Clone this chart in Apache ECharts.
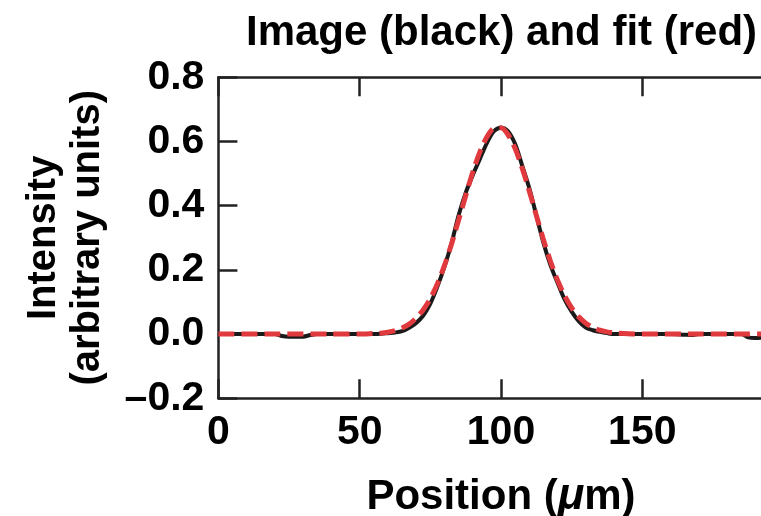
<!DOCTYPE html>
<html>
<head>
<meta charset="utf-8">
<script src="https://cdn.jsdelivr.net/npm/echarts@6/dist/echarts.min.js"></script>
<style>
html,body{margin:0;padding:0;background:#fff;}
#c{width:761px;height:516px;}
</style>
</head>
<body>
<div id="c"></div>
<script>
// Measured profile (black)
var imagePos = [0, 5, 10, 15, 20, 22.5, 25, 27.5, 30, 32.5, 35, 40, 45, 50, 55, 57.5, 60, 62.5, 65, 67.5, 70, 72.5, 75, 77.5, 80, 82.5, 85, 87.5, 90, 92.5, 95, 97.5, 100, 102.5, 105, 107.5, 110, 112.5, 115, 117.5, 120, 122.5, 125, 127.5, 130, 132.5, 135, 137.5, 140, 145, 150, 155, 160, 165, 167.5, 170, 175, 180, 185, 187.5, 190, 195, 200];
var imageVal = [0.000, 0.000, 0.000, 0.000, 0.000, -0.006, -0.008, -0.008, -0.008, -0.003, 0.000, 0.000, 0.000, 0.000, 0.000, 0.001, 0.003, 0.005, 0.009, 0.020, 0.035, 0.058, 0.095, 0.148, 0.210, 0.283, 0.370, 0.440, 0.495, 0.545, 0.595, 0.632, 0.643, 0.632, 0.592, 0.525, 0.455, 0.370, 0.285, 0.215, 0.160, 0.108, 0.070, 0.040, 0.020, 0.012, 0.007, 0.003, 0.000, 0.000, 0.000, 0.000, 0.000, -0.002, -0.003, 0.000, 0.000, 0.000, 0.000, -0.010, -0.012, -0.008, 0.000];
// Fit (red)
var fitPos = [0, 20, 40, 50, 55, 57.5, 60, 62.5, 65, 67.5, 70, 72.5, 75, 77.5, 80, 82.5, 85, 87.5, 90, 92.5, 95, 97.5, 100, 102.5, 105, 107.5, 110, 112.5, 115, 117.5, 120, 122.5, 125, 127.5, 130, 132.5, 135, 137.5, 140, 145, 150, 170, 200];
var fitVal = [0.000, 0.000, 0.000, 0.000, 0.002, 0.003, 0.006, 0.011, 0.019, 0.031, 0.050, 0.076, 0.111, 0.157, 0.214, 0.281, 0.355, 0.431, 0.504, 0.567, 0.614, 0.641, 0.643, 0.621, 0.578, 0.517, 0.446, 0.370, 0.295, 0.227, 0.168, 0.120, 0.082, 0.054, 0.034, 0.021, 0.012, 0.007, 0.004, 0.001, 0.000, 0.000, 0.000];
var xTicks = [0, 50, 100, 150];
var yTickLabels = ['\u20130.2', '0.0', '0.2', '0.4', '0.6', '0.8'];
var yTickValues = [-0.2, 0, 0.2, 0.4, 0.6, 0.8];

var titleText = 'Image (black) and fit (red)';
var xName = 'Position ({mu|\u03bc}m)';
var yName = 'Intensity\n(arbitrary units)';

function pairs(xs, ys){ return xs.map(function(x,i){ return [x, ys[i]]; }); }

var FONT = '"Liberation Sans", Arial, Helvetica, sans-serif';
var AX = '#222';
var axisLine = {show:true, onZero:false, lineStyle:{color:AX, width:2.5}};
var tick = {show:true, inside:true, length:19, lineStyle:{color:AX, width:2.5}};

var chart = echarts.init(document.getElementById('c'), null, {renderer:'canvas'});
chart.setOption({
  backgroundColor:'#fff',
  animation:false,
  title:{
    text:titleText, left:241, top:7,
    textStyle:{fontFamily:FONT, fontWeight:'bold', fontSize:42, color:'#000'}
  },
  grid:{left:218.4, top:77.3, right:-22.6, bottom:117.7, containLabel:false, outerBoundsMode:'none'},
  xAxis:[{
    type:'value', min:0, max:200, interval:50, position:'bottom',
    name:xName, nameLocation:'middle', nameGap:77,
    nameTextStyle:{fontFamily:FONT, fontWeight:'bold', fontSize:42, color:'#000',
      rich:{mu:{fontFamily:FONT, fontWeight:'bold', fontStyle:'italic', fontSize:44, color:'#000'}}},
    axisLine:axisLine, axisTick:tick, splitLine:{show:false},
    axisLabel:{margin:14, fontFamily:FONT, fontWeight:'bold', fontSize:41, color:'#000',
      formatter:function(v){ return xTicks.indexOf(v) >= 0 ? String(v) : ''; }}
  },{
    type:'value', min:0, max:200, interval:50, position:'top',
    axisLine:axisLine, axisTick:tick, axisLabel:{show:false}, splitLine:{show:false}
  }],
  yAxis:[{
    type:'value', min:-0.2, max:0.8, interval:0.2, position:'left',
    name:yName, nameLocation:'middle', nameGap:108, nameRotate:90,
    nameTextStyle:{fontFamily:FONT, fontWeight:'bold', fontSize:40, color:'#000', lineHeight:44, align:'center'},
    axisLine:axisLine, axisTick:tick, splitLine:{show:false},
    axisLabel:{margin:14, fontFamily:FONT, fontWeight:'bold', fontSize:41, color:'#000',
      formatter:function(v){
        for (var i=0;i<yTickValues.length;i++){ if (Math.abs(yTickValues[i]-v)<1e-6) return yTickLabels[i]; }
        return '';
      }}
  },{
    type:'value', min:-0.2, max:0.8, interval:0.2, position:'right',
    axisLine:axisLine, axisTick:tick, axisLabel:{show:false}, splitLine:{show:false}
  }],
  series:[{
    type:'line', name:'Image', data:pairs(imagePos, imageVal), showSymbol:false, smooth:0.3,
    lineStyle:{color:'#1a1a1a', width:4}, z:2
  },{
    type:'line', name:'Fit', data:pairs(fitPos, fitVal), showSymbol:false, smooth:0.3,
    lineStyle:{color:'#e0393e', width:5, type:[16,7], cap:'butt'}, z:3
  }]
});
</script>
</body>
</html>
